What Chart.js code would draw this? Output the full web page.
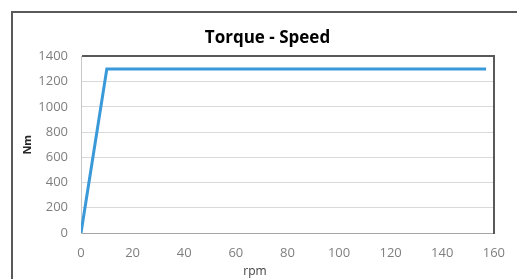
<!DOCTYPE html>
<html>
<head>
<meta charset="utf-8">
<script src="https://cdn.jsdelivr.net/npm/chart.js@4"></script>
<style>
    html, body { margin: 0; padding: 0; background: #fff; overflow: hidden; }
    #wrap { position: relative; width: 517px; height: 279px; }
    #frame {
        position: absolute; left: 11px; top: 11px; width: 600px; height: 400px;
        border-left: 2px solid #595959; border-top: 2px solid #595959;
    }
    #torque-chart { position: absolute; left: 0; top: 0; }
</style>
</head>
<body>
<div id="wrap">
    <div id="frame"></div>
    <canvas id="torque-chart" width="517" height="279"></canvas>
</div>
<script>
// Данные кривой момент / скорость
const speedRpm = [0, 10, 157];
const torqueNm = [0, 1300, 1300];

// Диапазоны осей
const xRange = [0, 160];
const yRange = [0, 1400];
const xStep = 20;
const yStep = 200;

const FONT = "'Open Sans', 'Liberation Sans', sans-serif";

// подпись оси X (в оригинале смещена влево от центра)
const xTitlePlugin = {
    id: 'xTitle',
    afterDraw(chart) {
        const ctx = chart.ctx;
        ctx.save();
        ctx.font = '12px ' + FONT;
        ctx.fillStyle = '#404040';
        ctx.textAlign = 'center';
        ctx.textBaseline = 'middle';
        ctx.fillText('rpm', 255, 272);
        ctx.restore();
    }
};

// цвет линий сетки: верхняя - тёмная рамка, нижняя - ось
function gridColor(c) {
    if (!c.tick) return '#d9d9d9';
    if (c.tick.value === yRange[1]) return '#595959';
    if (c.tick.value === yRange[0]) return '#a6a6a6';
    return '#d9d9d9';
}

function initializeChart() {
    const ctx = document.getElementById('torque-chart').getContext('2d');

    new Chart(ctx, {
        type: 'scatter',
        data: {
            datasets: [{
                label: 'Torque',
                data: speedRpm.map((x, i) => ({ x: x, y: torqueNm[i] })),
                showLine: true,
                borderColor: '#3a9ad9',
                borderWidth: 3,
                pointRadius: 0,
                tension: 0
            }]
        },
        options: {
            responsive: false,
            animation: false,
            layout: {
                padding: { left: 18, right: 0, top: 0, bottom: 0 }
            },
            plugins: {
                legend: { display: false },
                tooltip: { enabled: false },
                title: {
                    display: true,
                    text: 'Torque - Speed',
                    color: '#000',
                    font: { family: FONT, size: 17, weight: 'bold' },
                    padding: { top: 28, bottom: 8 }
                }
            },
            scales: {
                x: {
                    type: 'linear',
                    min: xRange[0],
                    max: xRange[1],
                    grid: { display: false, drawTicks: false },
                    border: { display: true, color: '#a6a6a6', width: 1 },
                    ticks: {
                        stepSize: xStep,
                        color: '#7f7f7f',
                        padding: 12,
                        maxRotation: 0,
                        font: { family: FONT, size: 13 },
                        callback: v => String(v)
                    },
                    afterFit(scale) { scale.height = 46; }
                },
                y: {
                    min: yRange[0],
                    max: yRange[1],
                    grid: {
                        drawTicks: false,
                        color: gridColor,
                        lineWidth: c => c.tick && c.tick.value === yRange[1] ? 2 : 1
                    },
                    border: { display: true, color: '#c8c8c8', width: 1 },
                    ticks: {
                        stepSize: yStep,
                        color: '#7f7f7f',
                        padding: 13,
                        font: { family: FONT, size: 13 },
                        callback: v => String(v)
                    },
                    title: {
                        display: true,
                        text: 'Nm',
                        color: '#262626',
                        font: { family: FONT, size: 11, weight: 'bold' },
                        padding: { top: 3, bottom: 0 }
                    },
                    afterFit(scale) { scale.width = 63; }
                },
                y2: {
                    position: 'right',
                    min: yRange[0],
                    max: yRange[1],
                    grid: { display: false, drawTicks: false, tickLength: 0 },
                    ticks: { display: false },
                    border: { display: true, color: '#595959', width: 2 },
                    afterFit(scale) { scale.width = 23; }
                }
            }
        },
        plugins: [xTitlePlugin]
    });
}

initializeChart();
</script>
</body>
</html>
